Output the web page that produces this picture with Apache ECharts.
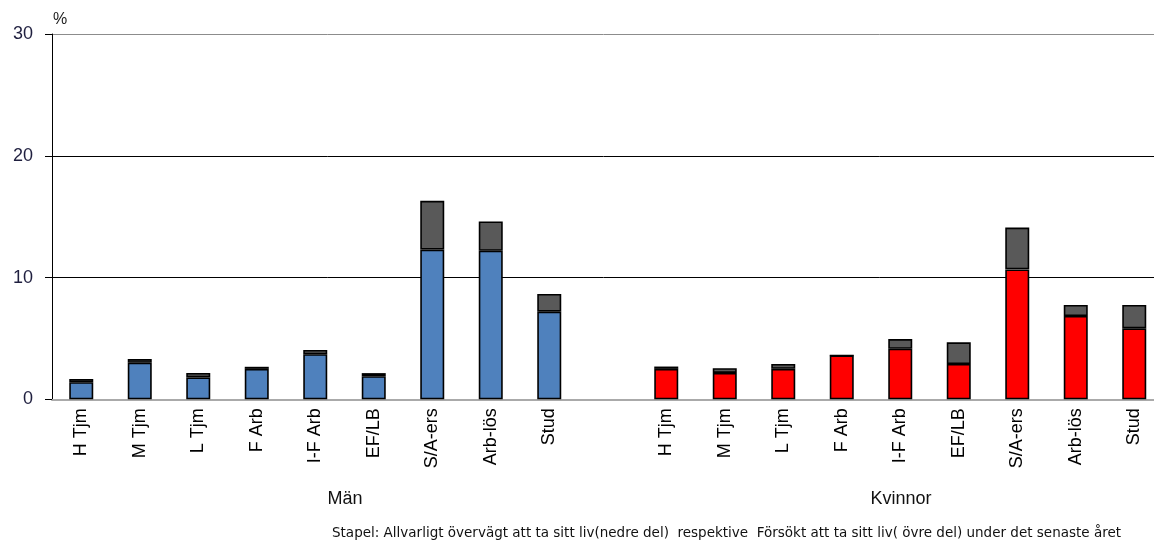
<!DOCTYPE html>
<html>
<head>
<meta charset="utf-8">
<script src="https://cdn.jsdelivr.net/npm/echarts@6/dist/echarts.min.js"></script>
<style>
html,body{margin:0;padding:0;background:#fff;}
#chart{width:1154px;height:543px;}
</style>
</head>
<body>
<div id="chart"></div>
<script>
// ---- Data ----
var groupCats = ['H Tjm', 'M Tjm', 'L Tjm', 'F Arb', 'I-F Arb', 'EF/LB', 'S/A-ers', 'Arb-lös', 'Stud'];
var menLower   = [1.4, 3.0, 1.8, 2.5, 3.7, 1.9, 12.3, 12.2, 7.2];
var menUpper   = [0.27, 0.3, 0.37, 0.17, 0.35, 0.25, 4.0, 2.4, 1.45];
var womenLower = [2.5, 2.17, 2.5, 3.6, 4.15, 2.9, 10.67, 6.84, 5.83];
var womenUpper = [0.19, 0.38, 0.4, 0, 0.8, 1.78, 3.43, 0.91, 1.92];
var yTicks = [0, 10, 20, 30];
var groupNames = ['Män', 'Kvinnor'];
var unitLabel = '%';
var footnote = 'Stapel: Allvarligt övervägt att ta sitt liv(nedre del)  respektive  Försökt att ta sitt liv( övre del) under det senaste året';

// ---- Build ----
var categories = groupCats.concat(['']).concat(groupCats);
var lowerData = menLower.concat(['-']).concat(womenLower);
var upperData = menUpper.concat(['-']).concat(womenUpper);
var nMen = groupCats.length;

var chart = echarts.init(document.getElementById('chart'), null, {renderer: 'canvas'});
var font = 'Liberation Sans, Arial, sans-serif';

chart.setOption({
  animation: false,
  grid: { left: 52, top: 34, width: 1111.5, height: 365.3, containLabel: false, outerBoundsMode: 'none' },
  xAxis: {
    type: 'category',
    data: categories,
    axisLine: { show: true, lineStyle: { color: '#aaaaaa', width: 2 } },
    axisTick: { show: false },
    axisLabel: {
      interval: 0, rotate: 90, margin: 9,
      fontFamily: font, fontSize: 18, color: '#000'
    }
  },
  yAxis: {
    type: 'value',
    min: yTicks[0], max: yTicks[yTicks.length - 1], interval: 10,
    axisLine: { show: true, lineStyle: { color: '#000', width: 1 } },
    axisTick: { show: true, length: 7, lineStyle: { color: '#000' } },
    axisLabel: { fontFamily: font, fontSize: 18, color: '#1f1f3f', margin: 19 },
    splitLine: { show: true, lineStyle: { color: ['#aaaaaa', '#000', '#000', '#8c8c8c'], width: 1 } }
  },
  series: [
    {
      type: 'bar', stack: 'a', barWidth: 24,
      data: lowerData,
      itemStyle: {
        color: function (p) { return p.dataIndex < nMen ? '#4F81BD' : '#FF0000'; },
        borderColor: '#000', borderWidth: 1.6
      }
    },
    {
      type: 'bar', stack: 'a', barWidth: 24,
      data: upperData,
      itemStyle: { color: '#595959', borderColor: '#000', borderWidth: 1.6 }
    }
  ],
  graphic: [
    { type: 'text', left: 53, top: 12, style: { text: unitLabel, fontFamily: font, fontSize: 16, fill: '#222' } },
    { type: 'text', x: 345, y: 499, style: { text: groupNames[0], fontFamily: font, fontSize: 18, fill: '#111', align: 'center', verticalAlign: 'middle' } },
    { type: 'text', x: 901, y: 499, style: { text: groupNames[1], fontFamily: font, fontSize: 18, fill: '#111', align: 'center', verticalAlign: 'middle' } },
    { type: 'text', x: 332, y: 533, style: { text: footnote, fontFamily: 'DejaVu Sans, sans-serif', fontSize: 13.5, fill: '#111', align: 'left', verticalAlign: 'middle' } }
  ]
});
</script>
</body>
</html>
